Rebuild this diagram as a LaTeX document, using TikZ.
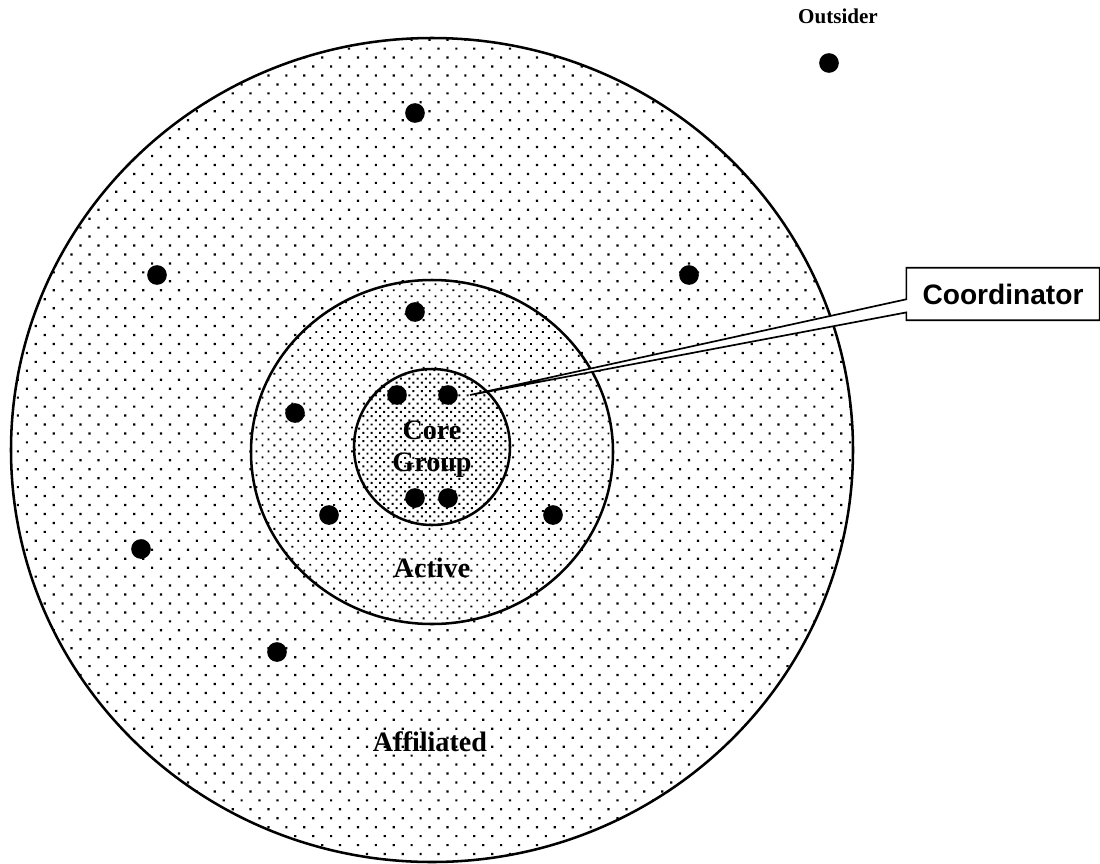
\documentclass[tikz,border=0pt]{standalone}
\usepackage{fontspec}
\setmainfont{Liberation Serif}
\newfontfamily\calloutfont{Liberation Sans}
\usetikzlibrary{calc,patterns.meta}
\tikzset{%
ring/.style={draw,line width=1.8pt},
member/.style={circle,fill=black,inner sep=0pt,minimum size=14pt},
zone/.style={font=\fontsize{20}{23}\selectfont\bfseries, align=center},
outlabel/.style={font=\fontsize{15}{17}\selectfont\bfseries},
callbox/.style={font=\calloutfont\fontsize{20}{22}\selectfont\bfseries, minimum width=137pt, minimum height=37pt, inner sep=0pt},
callout/.style={draw,fill=white,line width=1.2pt}
}

\begin{document}
\begin{tikzpicture}[x=0.025cm,y=-0.025cm]
\useasboundingbox (0,0) rectangle (1100,863);

% membership zones
\draw[ring,preaction={fill=white},pattern={Dots[angle=45,distance=9pt,radius=1.1pt]}]
      (432,450) ellipse [x radius=421, y radius=412];
\draw[ring,preaction={fill=white},pattern={Dots[angle=45,distance=6pt,radius=0.95pt]}]
      (432,452) ellipse [x radius=181, y radius=172];
\draw[ring,preaction={fill=white},pattern={Dots[angle=45,distance=4.2pt,radius=1pt]}]
      (432,447) ellipse [x radius=78, y radius=78];

\node[zone]     (core)       at (432,449) {Core\\Group};
\node[zone]     (active)     at (432,568) {Active};
\node[zone]     (affiliated) at (430,742) {Affiliated};
\node[outlabel] (outsider)   at (838,16)  {Outsider};

% coordinator callout
\node[callbox]  (coordinator) at (1003,294) {Coordinator};
\coordinate     (tip) at (470,395);
\draw[callout] (coordinator.north west) -- ($(coordinator.north west)!0.6!(coordinator.south west)$)
               -- (tip) -- ($(coordinator.north west)!0.85!(coordinator.south west)$)
               -- (coordinator.south west) -- (coordinator.south east)
               -- (coordinator.north east) -- cycle;
\node[callbox] at (coordinator) {Coordinator};

% members
\foreach \n/\p in {o/{829,63},
                   a1/{415,113}, a2/{157,275}, a3/{689,275}, a4/{141,549}, a5/{277,652},
                   b1/{415,312}, b2/{295,413}, b3/{329,515}, b4/{553,515},
                   c1/{397,395}, c2/{448,395}, c3/{415,498}, c4/{448,498}}
  \node[member] (m\n) at (\p) {};
\end{tikzpicture}
\end{document}
